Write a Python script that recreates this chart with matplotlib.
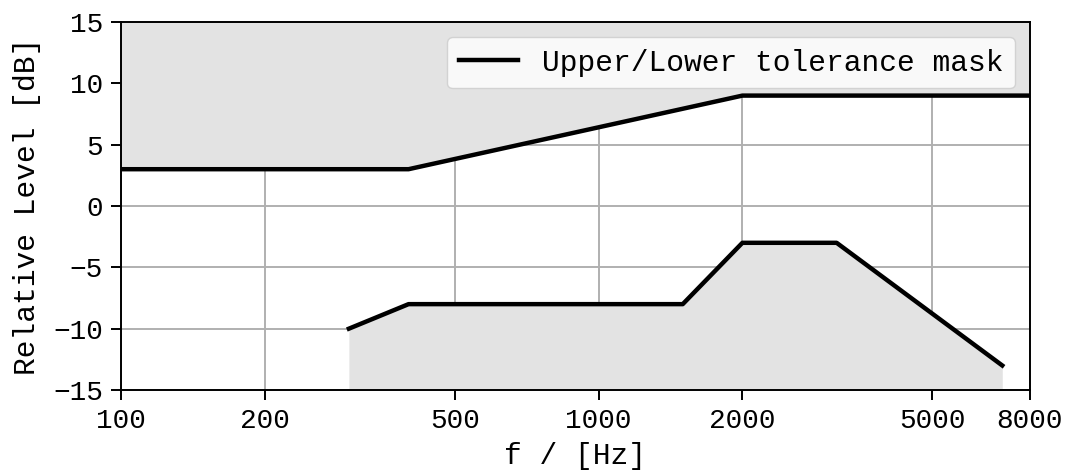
import numpy as np
import matplotlib
matplotlib.use('Agg')
import matplotlib.pyplot as plt

# tolerance mask corner points
upper_f = [100, 400, 2000, 8000]
upper_db = [3, 3, 9, 9]
lower_f = [300, 400, 1500, 2000, 3150, 7000]
lower_db = [-10, -8, -8, -3, -3, -13]

xticks = [100, 200, 500, 1000, 2000, 5000, 8000]
yticks = [-15, -10, -5, 0, 5, 10, 15]

plt.rcParams['font.family'] = ['Liberation Mono', 'DejaVu Sans Mono']
plt.rcParams['font.size'] = 20

fig = plt.figure(figsize=(10.66, 4.72), dpi=100)
ax = fig.add_axes([0.1135, 0.1737, 0.9662 - 0.1135, 0.9534 - 0.1737])

ax.fill_between(upper_f, upper_db, 15, color='#e3e3e3', lw=0, zorder=1)
ax.fill_between(lower_f, lower_db, -15, color='#e3e3e3', lw=0, zorder=1)
ax.plot(upper_f, upper_db, color='black', lw=3.2, zorder=3,
        label='Upper/Lower tolerance mask')
ax.plot(lower_f, lower_db, color='black', lw=3.2, zorder=3)

ax.set_xscale('log')
ax.set_xlim(100, 8000)
ax.set_ylim(-15, 15)
ax.set_xticks(xticks)
ax.set_xticklabels([str(t) for t in xticks])
ax.xaxis.set_minor_locator(matplotlib.ticker.NullLocator())
ax.set_yticks(yticks)
ax.grid(True, color='#b0b0b0', lw=1.4, zorder=2)
ax.set_axisbelow(True)
for s in ax.spines.values():
    s.set_linewidth(1.4)
    s.set_zorder(4)
ax.tick_params(length=7, width=1.4, pad=6)

ax.set_xlabel('f / [Hz]', fontsize=21.3, labelpad=6)
ax.set_ylabel('Relative Level [dB]', fontsize=21.3, labelpad=9)
ax.legend(loc='upper right', fontsize=21.3, handlelength=2.0, borderaxespad=0.5)

fig.savefig('out.png', dpi=100)
